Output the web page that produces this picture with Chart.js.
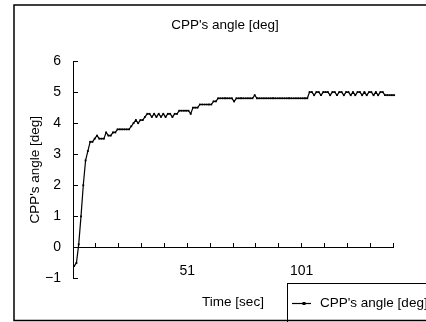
<!DOCTYPE html>
<html lang="en">
<head>
    <meta charset="UTF-8">
    <title>CPP's angle</title>
    <style>
        body {
            margin: 0;
            background: #fff;
        }
        #chartContainer {
            width: 426px;
            height: 322px;
        }
    </style>
    <script src="https://cdn.jsdelivr.net/npm/chart.js"></script>
</head>
<body>
    <div id="chartContainer">
        <canvas id="angleChart"></canvas>
    </div>
    <script>
        const chartTitle = "CPP's angle [deg]";
        const seriesName = "CPP's angle [deg]";
        const xTitle = 'Time [sec]';
        const yTitle = "CPP's angle [deg]";

        // category axis: 140 slots, tick mark every 10, labels only at 51 and 101
        const categoryCount = 140;
        const tickEvery = 10;
        const xTickLabels = ['51', '101'];
        const yTickLabels = ['\u22121', '0', '1', '2', '3', '4', '5', '6'];

        // angle per sample (one per second)
        const angle = [
            -0.6, -0.5, 0.1, 1.0, 2.0, 2.8, 3.1, 3.4, 3.4, 3.5,
            3.6, 3.5, 3.5, 3.5, 3.7, 3.6, 3.6, 3.7, 3.7, 3.8,
            3.8, 3.8, 3.8, 3.8, 3.8, 3.9, 4.0, 4.1, 4.0, 4.1,
            4.1, 4.2, 4.3, 4.3, 4.2, 4.3, 4.2, 4.3, 4.2, 4.3,
            4.2, 4.3, 4.3, 4.2, 4.3, 4.3, 4.4, 4.4, 4.4, 4.4,
            4.4, 4.3, 4.5, 4.5, 4.5, 4.6, 4.6, 4.6, 4.6, 4.6,
            4.6, 4.7, 4.7, 4.8, 4.8, 4.8, 4.8, 4.8, 4.8, 4.8,
            4.7, 4.8, 4.8, 4.8, 4.8, 4.8, 4.8, 4.8, 4.8, 4.9,
            4.8, 4.8, 4.8, 4.8, 4.8, 4.8, 4.8, 4.8, 4.8, 4.8,
            4.8, 4.8, 4.8, 4.8, 4.8, 4.8, 4.8, 4.8, 4.8, 4.8,
            4.8, 4.8, 4.8, 5.0, 5.0, 4.9, 5.0, 5.0, 4.9, 5.0,
            5.0, 5.0, 4.9, 5.0, 5.0, 4.9, 5.0, 5.0, 4.9, 5.0,
            5.0, 4.9, 5.0, 4.9, 5.0, 5.0, 4.9, 5.0, 4.9, 5.0,
            5.0, 4.9, 5.0, 4.9, 5.0, 5.0, 4.9, 4.9, 4.9, 4.9,
            4.9, 4.9
        ];

        const fontFamily = "'Liberation Sans', Arial, sans-serif";
        Chart.defaults.font.family = fontFamily;
        Chart.defaults.font.size = 13.5;
        Chart.defaults.color = '#000';

        // frame, title and the legend box that sits bottom right
        const framePlugin = {
            id: 'frame',
            beforeDraw(chart) {
                const c = chart.ctx;
                c.save();
                c.fillStyle = '#fff';
                c.fillRect(0, 0, chart.width, chart.height);
                c.restore();
            },
            afterDraw(chart) {
                const c = chart.ctx;
                c.save();
                c.fillStyle = '#000';
                c.font = '13.5px ' + fontFamily;
                c.textAlign = 'center';
                c.textBaseline = 'middle';
                c.fillText(chartTitle, 225, 25);

                c.fillStyle = '#fff';
                c.fillRect(287.5, 283.5, 200, 40);
                c.strokeStyle = '#000';
                c.lineWidth = 1;
                c.strokeRect(287.5, 283.5, 200, 40);
                c.beginPath();
                c.moveTo(292, 303.5);
                c.lineTo(311, 303.5);
                c.lineWidth = 1.2;
                c.stroke();
                c.fillStyle = '#000';
                c.fillRect(302.5, 302, 3, 3);
                c.textAlign = 'left';
                c.fillText(seriesName, 320, 303);

                c.lineWidth = 1.5;
                c.strokeRect(14, 5, 430, 315.5);
                c.restore();
            }
        };

        const ctx = document.getElementById('angleChart').getContext('2d');
        new Chart(ctx, {
            type: 'line',
            data: {
                datasets: [{
                    label: seriesName,
                    data: angle.map((v, i) => ({ x: i + 1, y: v })),
                    xAxisID: 'x',
                    yAxisID: 'y',
                    borderColor: '#000',
                    backgroundColor: '#000',
                    borderWidth: 1.2,
                    pointStyle: 'rect',
                    pointRadius: 1.3,
                    pointBorderWidth: 0,
                    tension: 0,
                    clip: false
                }]
            },
            options: {
                responsive: true,
                maintainAspectRatio: false,
                animation: false,
                layout: {
                    padding: { left: 15, right: 33, top: 61, bottom: 1 }
                },
                plugins: {
                    legend: { display: false },
                    title: { display: false },
                    tooltip: { enabled: false }
                },
                scales: {
                    x: {
                        type: 'linear',
                        min: 0.5,
                        max: categoryCount + 0.5,
                        ticks: { display: false },
                        grid: { display: false },
                        border: { display: false },
                        title: {
                            display: true,
                            text: xTitle,
                            padding: { top: 0, bottom: 11 }
                        },
                        afterFit: s => { s.height = 42.5; }
                    },
                    xz: {
                        type: 'linear',
                        position: { y: 0 },
                        min: 0.5,
                        max: categoryCount + 0.5,
                        afterBuildTicks: s => {
                            const ticks = [];
                            for (let v = 0.5; v <= categoryCount + 0.5; v += tickEvery) {
                                ticks.push({ value: v });
                            }
                            s.ticks = ticks;
                        },
                        ticks: {
                            autoSkip: false,
                            maxRotation: 0,
                            padding: 20,
                            font: { size: 14 },
                            callback: v => {
                                const lbl = String(Math.round(v + 0.5));
                                return xTickLabels.includes(lbl) ? lbl : '';
                            }
                        },
                        grid: { drawOnChartArea: false, tickLength: -5, color: '#000' },
                        border: { color: '#000' }
                    },
                    y: {
                        min: -1,
                        max: 6,
                        ticks: {
                            stepSize: 1,
                            padding: 17,
                            font: { size: 14 },
                            callback: v => yTickLabels[v + 1]
                        },
                        grid: { drawOnChartArea: false, tickLength: -5, color: '#000' },
                        border: { color: '#000' },
                        title: {
                            display: true,
                            text: yTitle,
                            padding: { top: 12, bottom: 0 }
                        },
                        afterFit: s => { s.width = 58; }
                    }
                }
            },
            plugins: [framePlugin]
        });
    </script>
</body>
</html>
